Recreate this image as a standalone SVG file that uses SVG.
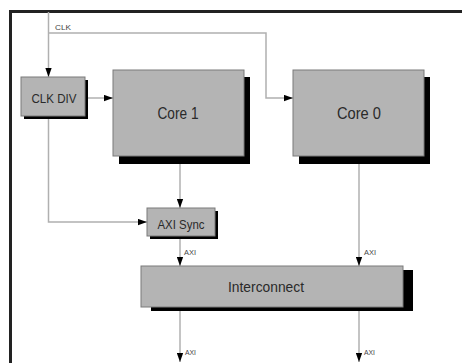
<svg xmlns="http://www.w3.org/2000/svg" width="462" height="363" viewBox="0 0 462 363">
<style>
.box{fill:#b4b4b4;stroke:#7a7a7a;stroke-width:1}
.sh{fill:#000}
.ln{fill:none;stroke:#b0b0b0;stroke-width:1.5}
.t{font-family:"Liberation Sans",Arial,sans-serif;fill:#2a2a2a;text-anchor:middle}
.s{font-family:"Liberation Sans",Arial,sans-serif;fill:#444;font-size:8px}
</style>
<defs>
<marker id="ah" viewBox="0 0 10 7" refX="10" refY="3.5" markerWidth="9" markerHeight="7" markerUnits="userSpaceOnUse" orient="auto">
<path d="M0,0 L10,3.5 L0,7 Z" fill="#000"/>
</marker>
</defs>
<rect width="462" height="363" fill="#fff"/>
<g id="frame">
<path d="M9,11.5 H462" stroke="#222" stroke-width="3" fill="none"/>
<path d="M10.5,10 V363" stroke="#222" stroke-width="3" fill="none"/>
</g>
<g id="connectors">
<path class="ln" d="M48.5,12 V77" marker-end="url(#ah)"/>
<path class="ln" d="M48.5,33 H266 V98 H293" marker-end="url(#ah)"/>
<path class="ln" d="M85,98 H113" marker-end="url(#ah)"/>
<path class="ln" d="M48.5,119 V222 H147" marker-end="url(#ah)"/>
<path class="ln" d="M180,164 V208" marker-end="url(#ah)"/>
<path class="ln" d="M180,239 V266" marker-end="url(#ah)"/>
<path class="ln" d="M359,164 V266" marker-end="url(#ah)"/>
<path class="ln" d="M180,311 V362" marker-end="url(#ah)"/>
<path class="ln" d="M359,311 V362" marker-end="url(#ah)"/>
<text class="s" x="55" y="30" textLength="16" lengthAdjust="spacingAndGlyphs">CLK</text>
<text class="s" x="184" y="255" textLength="12" lengthAdjust="spacingAndGlyphs">AXI</text>
<text class="s" x="364" y="255" textLength="12" lengthAdjust="spacingAndGlyphs">AXI</text>
<text class="s" x="185" y="355" textLength="11" lengthAdjust="spacingAndGlyphs">AXI</text>
<text class="s" x="364" y="355" textLength="11" lengthAdjust="spacingAndGlyphs">AXI</text>
</g>
<g id="clkdiv">
<rect class="sh" x="24" y="80" width="64" height="39"/>
<rect class="box" x="21" y="77" width="64" height="39"/>
<text class="t" x="54" y="103" font-size="13" textLength="45" lengthAdjust="spacingAndGlyphs">CLK DIV</text>
</g>
<g id="core1">
<rect class="sh" x="119" y="77" width="131" height="87"/>
<rect class="box" x="113" y="70" width="131" height="86"/>
<text class="t" x="178" y="119" font-size="17" textLength="41" lengthAdjust="spacingAndGlyphs">Core 1</text>
</g>
<g id="core0">
<rect class="sh" x="299" y="77" width="131" height="87"/>
<rect class="box" x="293" y="70" width="131" height="86"/>
<text class="t" x="359" y="119" font-size="17" textLength="44" lengthAdjust="spacingAndGlyphs">Core 0</text>
</g>
<g id="axisync">
<rect class="sh" x="150" y="211" width="68" height="28"/>
<rect class="box" x="147" y="208" width="68" height="28"/>
<text class="t" x="181" y="229" font-size="13" textLength="47" lengthAdjust="spacingAndGlyphs">AXI Sync</text>
</g>
<g id="interconnect">
<rect class="sh" x="151" y="270" width="262" height="41"/>
<rect class="box" x="141" y="266" width="262" height="41"/>
<text class="t" x="266" y="292" font-size="15" textLength="76" lengthAdjust="spacingAndGlyphs">Interconnect</text>
</g>
</svg>
